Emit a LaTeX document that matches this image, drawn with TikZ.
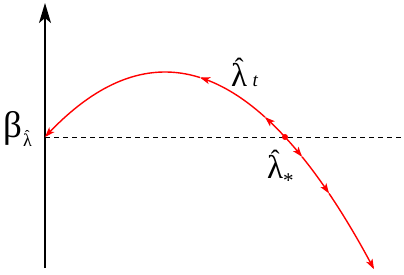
\documentclass[tikz,border=0pt]{standalone}
\usepackage{fontspec}
\setmainfont{Liberation Serif}
\usetikzlibrary{arrows.meta}
\newcommand\lamhat{\ooalign{λ\cr\hidewidth\raise0.3em\hbox{\fontsize{0.8em}{0.8em}\selectfont ˆ}\hidewidth\cr}}
\tikzset{
  big/.style={inner sep=0pt, font=\fontsize{33}{33}\selectfont},
  curve/.style={red, line width=1.4pt, -{Stealth[length=10pt,width=7pt,inset=2.5pt]}},
  axis/.style={black, line width=1.3pt, -{Stealth[length=20pt,width=12pt,inset=5pt]}},
  declare function={pf(\x)=72+(0.06719*(\x-165))^2;}
}
\begin{document}
\begin{tikzpicture}[x=1pt,y=-1pt]
\useasboundingbox (0,0) rectangle (404,274);
\coordinate (ybot) at (45,268);
\coordinate (ytop) at (45,3);
\coordinate (dl) at (45,137);
\coordinate (dr) at (403,137);
\draw[dashed, line width=0.9pt, dash pattern=on 5pt off 4pt] (dl) -- (dr);
\draw[axis] (ybot) -- (ytop);
% curve segments
\draw[curve] plot[domain=285:265, samples=20, smooth] (\x,{pf(\x)});
\draw[curve] plot[domain=265:200, samples=40, smooth] (\x,{pf(\x)});
\draw[curve] plot[domain=200:45, samples=60, smooth] (\x,{pf(\x)});
\draw[curve] plot[domain=285:302, samples=20, smooth] (\x,{pf(\x)});
\draw[curve] plot[domain=302:329, samples=20, smooth] (\x,{pf(\x)});
\draw[curve] plot[domain=329:374, samples=40, smooth] (\x,{pf(\x)});
\fill[red] (285,137) circle (3pt) coordinate (ls);
% labels
\node[big, anchor=base west, font=\fontsize{37}{37}\selectfont] (beta) at (3,137)
  {β\kern1pt\raisebox{-0.25em}{\fontsize{18}{18}\selectfont\lamhat}};
\node[big, anchor=base west] (lt) at (231,86)
  {\lamhat\,{\fontsize{19}{19}\selectfont\itshape t}};
\node[big, anchor=base west] (lstar) at (267,178)
  {\lamhat\raisebox{-0.3em}{\fontsize{21}{21}\selectfont *}};
\end{tikzpicture}
\end{document}
